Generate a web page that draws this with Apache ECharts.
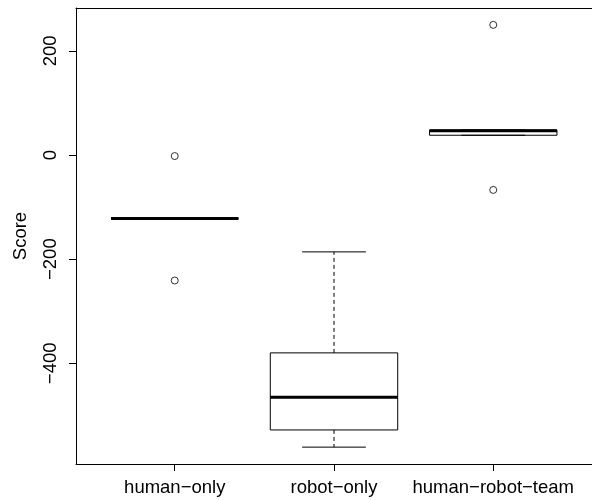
<!DOCTYPE html>
<html>
<head>
<meta charset="utf-8">
<script src="https://cdn.jsdelivr.net/npm/echarts@6/dist/echarts.min.js"></script>
<style>html,body{margin:0;padding:0;background:#fff}#c{width:592px;height:500px}</style>
</head>
<body>
<div id="c"></div>
<script>
// Data
var categories = ['human-only', 'robot-only', 'human-robot-team'];
var lowerWhisker = [-122, -561, 38];
var q1 = [-122, -528, 38];
var median = [-122, -465, 46.5];
var q3 = [-122, -380, 48];
var upperWhisker = [-122, -186, 48];
var outlierCat = [1, 1, 3, 3];
var outlierVal = [-2, -241, 250, -67];
var yTicks = [-400, -200, 0, 200];
var xTicks = [1, 2, 3];

var FONT = "'Liberation Sans', Arial, Helvetica, sans-serif";
var FS = 18.5;
function minus(s) { return String(s).replace(/-/g, '\u2212'); }

var boxData = categories.map(function (c, i) {
  return [i + 1, lowerWhisker[i], q1[i], median[i], q3[i], upperWhisker[i]];
});
var outData = outlierCat.map(function (c, i) { return [c, outlierVal[i]]; });

var chart = echarts.init(document.getElementById('c'), null, { renderer: 'canvas' });
chart.setOption({
  animation: false,
  backgroundColor: '#fff',
  grid: { left: 76, top: 8, width: 519, height: 456, containLabel: false },
  xAxis: [{
    type: 'value', min: 0.38, max: 3.62, position: 'bottom',
    splitLine: { show: false },
    axisLine: { show: true, onZero: false, lineStyle: { color: '#000', width: 1 } },
    axisTick: { show: true, length: 7, customValues: xTicks, lineStyle: { color: '#000' } },
    axisLabel: {
      customValues: xTicks, margin: 14, color: '#000', fontFamily: FONT, fontSize: FS,
      formatter: function (v) { return minus(categories[Math.round(v) - 1]); }
    }
  }, {
    type: 'value', min: 0.38, max: 3.62, position: 'top',
    splitLine: { show: false },
    axisLine: { show: true, onZero: false, lineStyle: { color: '#000', width: 1 } },
    axisTick: { show: false }, axisLabel: { show: false }
  }],
  yAxis: {
    type: 'value', min: -593.4, max: 282.4,
    name: 'Score', nameLocation: 'middle', nameRotate: 90, nameGap: 46,
    nameTextStyle: { color: '#000', fontFamily: FONT, fontSize: FS },
    splitLine: { show: false },
    axisLine: { show: true, onZero: false, lineStyle: { color: '#000', width: 1 } },
    axisTick: { show: true, length: 7, customValues: yTicks, lineStyle: { color: '#000' } },
    axisLabel: {
      customValues: yTicks, rotate: 90, margin: 16, color: '#000', fontFamily: FONT, fontSize: FS,
      formatter: function (v) { return minus(v); }
    }
  },
  series: [{
    type: 'custom',
    xAxisIndex: 0,
    data: boxData,
    encode: { x: 0, y: [1, 2, 3, 4, 5] },
    renderItem: function (params, api) {
      var x = api.value(0);
      var lw = api.coord([x, api.value(1)]);
      var b1 = api.coord([x, api.value(2)]);
      var md = api.coord([x, api.value(3)]);
      var b3 = api.coord([x, api.value(4)]);
      var uw = api.coord([x, api.value(5)]);
      var boxHalf = api.size([0.4, 0])[0];
      var capHalf = api.size([0.2, 0])[0];
      var cx = lw[0];
      var thin = { stroke: '#000', lineWidth: 1, fill: null };
      var dash = { stroke: '#000', lineWidth: 1, lineDash: [4, 3] };
      return {
        type: 'group',
        children: [
          { type: 'line', shape: { x1: cx, y1: b3[1], x2: cx, y2: uw[1] }, style: dash },
          { type: 'line', shape: { x1: cx, y1: b1[1], x2: cx, y2: lw[1] }, style: dash },
          { type: 'line', shape: { x1: cx - capHalf, y1: uw[1], x2: cx + capHalf, y2: uw[1] }, style: thin },
          { type: 'line', shape: { x1: cx - capHalf, y1: lw[1], x2: cx + capHalf, y2: lw[1] }, style: thin },
          { type: 'rect', shape: { x: cx - boxHalf, y: b3[1], width: 2 * boxHalf, height: b1[1] - b3[1] }, style: { stroke: '#000', lineWidth: 1, fill: 'none' } },
          { type: 'line', shape: { x1: cx - boxHalf, y1: md[1], x2: cx + boxHalf, y2: md[1] }, style: { stroke: '#000', lineWidth: 3 } }
        ]
      };
    }
  }, {
    type: 'scatter',
    xAxisIndex: 0,
    data: outData,
    symbol: 'circle',
    symbolSize: 7,
    itemStyle: { color: 'rgba(0,0,0,0)', borderColor: '#000', borderWidth: 1 },
    emphasis: { disabled: true }
  }]
});
</script>
</body>
</html>
